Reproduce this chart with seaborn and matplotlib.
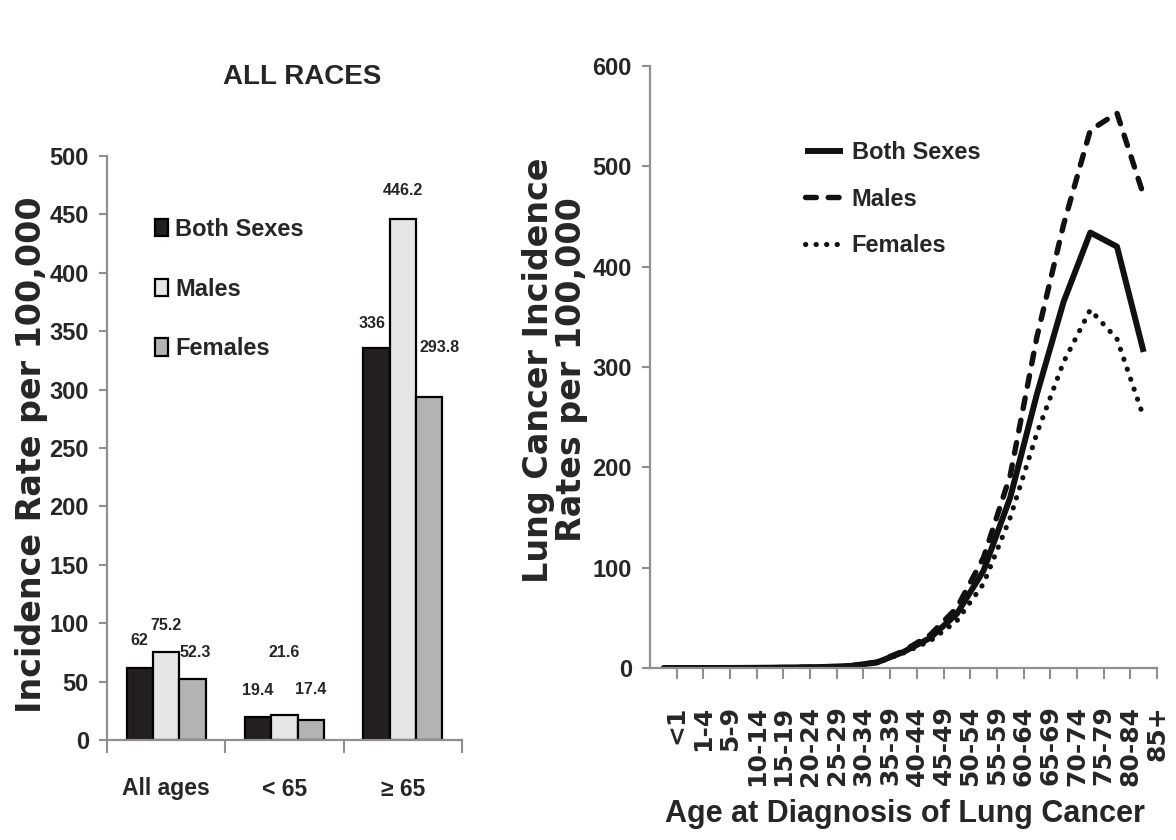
import numpy as np
import pandas as pd
import matplotlib
matplotlib.use("Agg")
import matplotlib.pyplot as plt
from matplotlib.ticker import FixedLocator
import seaborn as sns

# ---------------- data ----------------
age_bands = ["All ages", "< 65", "\u2265 65"]
sexes = ["Both Sexes", "Males", "Females"]
rate_both = [62, 19.4, 336]
rate_males = [75.2, 21.6, 446.2]
rate_females = [52.3, 17.4, 293.8]

age_groups = ["<1", "1-4", "5-9", "10-14", "15-19", "20-24", "25-29", "30-34",
              "35-39", "40-44", "45-49", "50-54", "55-59", "60-64", "65-69",
              "70-74", "75-79", "80-84", "85+"]
line_both = [0, 0, 0, 0.1, 0.3, 0.6, 1.0, 2.0, 5.5, 16, 30, 54, 97, 170, 273,
             365, 434, 420, 315]
line_males = [0, 0, 0, 0.1, 0.3, 0.6, 1.0, 2.0, 5.8, 17, 33, 60, 110, 192, 330,
              442, 536, 553, 471]
line_females = [0, 0, 0, 0.1, 0.3, 0.6, 1.0, 2.0, 5.2, 15, 27, 47, 84, 150, 234,
                305, 357, 328, 250]

# ---------------- style ----------------
sns.set_theme(style="white")
NARROW = ["Liberation Sans Narrow", "Liberation Sans", "DejaVu Sans"]
WIDE = ["DejaVu Sans"]
plt.rcParams["font.family"] = NARROW
plt.rcParams["font.weight"] = "bold"
plt.rcParams["axes.labelweight"] = "bold"

spine_gray = "#8f8f8f"
bar_colors = {"Both Sexes": "#231f20", "Males": "#e6e6e6", "Females": "#b3b3b3"}

fig = plt.figure(figsize=(11.76, 8.4), dpi=100)
W, H = 1176, 840


def frac_axes(x0, x1, y_top, y_bot):
    return fig.add_axes([x0 / W, 1 - y_bot / H, (x1 - x0) / W, (y_bot - y_top) / H])


# ---------------- left panel: grouped bars ----------------
ax1 = frac_axes(107, 462, 156, 740)
bars_df = pd.DataFrame({
    "band": np.repeat(age_bands, 3),
    "sex": sexes * 3,
    "rate": [v for trio in zip(rate_both, rate_males, rate_females) for v in trio],
})
sns.barplot(data=bars_df, x="band", y="rate", hue="sex", order=age_bands,
            hue_order=sexes, palette=bar_colors, width=0.67, gap=0,
            edgecolor="black", linewidth=1.6, saturation=1, ax=ax1)

ax1.set_ylim(0, 500)
ax1.set_xlim(-0.5, len(age_bands) - 0.5)
ax1.set_yticks(np.arange(0, 501, 50))
ax1.xaxis.set_minor_locator(FixedLocator(np.arange(-0.5, len(age_bands), 1.0)))
ax1.tick_params(axis="x", which="major", length=0, pad=27, labelsize=16.5)
ax1.tick_params(axis="x", which="minor", length=9, width=1.5, color=spine_gray,
                direction="out", bottom=True)
ax1.tick_params(axis="y", length=6, width=1.5, color=spine_gray, direction="out",
                left=True, labelsize=17, pad=7)
for lab in ax1.get_xticklabels() + ax1.get_yticklabels():
    lab.set_fontweight("bold")
for side in ("top", "right"):
    ax1.spines[side].set_visible(False)
for side in ("left", "bottom"):
    ax1.spines[side].set_color(spine_gray)
    ax1.spines[side].set_linewidth(1.6)
ax1.set_xlabel("")
ax1.set_ylabel("Incidence Rate per 100,000", fontsize=24, family=WIDE,
               fontweight="bold")
ax1.yaxis.label.set_va("center")
ax1.yaxis.set_label_coords(-0.212, 0.488)

# value labels above each bar (pixel offsets per label)
label_offsets = {
    ("All ages", "Both Sexes"): (0, 27), ("All ages", "Males"): (0, 27),
    ("All ages", "Females"): (3, 26),
    ("< 65", "Both Sexes"): (0, 27), ("< 65", "Males"): (0, 62),
    ("< 65", "Females"): (0, 30),
    ("\u2265 65", "Both Sexes"): (-4, 24), ("\u2265 65", "Males"): (0, 28),
    ("\u2265 65", "Females"): (10, 49),
}
for container, sex in zip(ax1.containers, sexes):
    for patch, band in zip(container.patches, age_bands):
        val = patch.get_height()
        dx, dy = label_offsets[(band, sex)]
        ax1.annotate(f"{val:g}", (patch.get_x() + patch.get_width() / 2, val),
                     xytext=(dx, dy), textcoords="offset pixels",
                     ha="center", va="center", fontsize=11.5, fontweight="bold")

h, l = ax1.get_legend_handles_labels()
ax1.legend(h, l, loc="upper left", bbox_to_anchor=(155 / W, 1 - 218 / H),
           bbox_transform=fig.transFigure, frameon=False, fontsize=17,
           handlelength=0.55, handleheight=0.76, handletextpad=0.3,
           labelspacing=1.55, borderpad=0, borderaxespad=0)

fig.text(302 / W, 1 - 77 / H, "ALL RACES", ha="center", va="center",
         fontsize=20, fontweight="bold")

# ---------------- right panel: incidence by age ----------------
ax2 = frac_axes(650, 1157, 66, 668)
pos = np.arange(len(age_groups))
styles = {
    "Both Sexes": dict(lw=4.3, ls="-"),
    "Males": dict(lw=3.9, ls=(0, (2.0, 2.2))),
    "Females": dict(lw=3.7, ls=(0, (0.05, 2.0))),
}
for name, vals in zip(sexes, [line_both, line_males, line_females]):
    sns.lineplot(x=pos, y=vals, ax=ax2, color="#111111", label=name,
                 linewidth=styles[name]["lw"], linestyle=styles[name]["ls"])
for line in ax2.get_lines():
    if line.get_linestyle() != "-":
        line.set_dash_capstyle("round")
    line.set_solid_capstyle("butt")

ax2.set_ylim(0, 600)
ax2.set_xlim(-0.5, len(age_groups) - 0.5)
ax2.set_yticks(np.arange(0, 601, 100))
# category names sit on the right-hand boundary tick of each band
ax2.set_xticks(pos + 0.5)
ax2.set_xticklabels(age_groups, rotation=90, family=WIDE, fontsize=18,
                    fontweight="bold")
ax2.tick_params(axis="x", which="major", length=8, width=1.5, color=spine_gray,
                direction="out", bottom=True, pad=19)
ax2.tick_params(axis="y", length=6, width=1.5, color=spine_gray, direction="out",
                left=True, labelsize=17, pad=7)
for lab in ax2.get_yticklabels():
    lab.set_fontweight("bold")
for side in ("top", "right"):
    ax2.spines[side].set_visible(False)
for side in ("left", "bottom"):
    ax2.spines[side].set_color(spine_gray)
    ax2.spines[side].set_linewidth(1.6)

ax2.set_ylabel("Lung Cancer Incidence\nRates per 100,000", fontsize=24,
               family=WIDE, fontweight="bold", linespacing=0.98)
ax2.yaxis.label.set_va("center")
ax2.yaxis.set_label_coords(-0.187, 0.495)
ax2.set_xlabel("Age at Diagnosis of Lung Cancer", fontsize=22, fontweight="bold")
ax2.xaxis.label.set_va("center")
ax2.xaxis.set_label_coords(0.503, -0.2425)

ax2.legend(loc="upper left", bbox_to_anchor=(805 / W, 1 - 141 / H),
           bbox_transform=fig.transFigure, frameon=False, fontsize=17,
           handlelength=1.6, handletextpad=0.38, labelspacing=1.0,
           borderpad=0, borderaxespad=0)

fig.savefig("out.png", dpi=100, facecolor="white")
